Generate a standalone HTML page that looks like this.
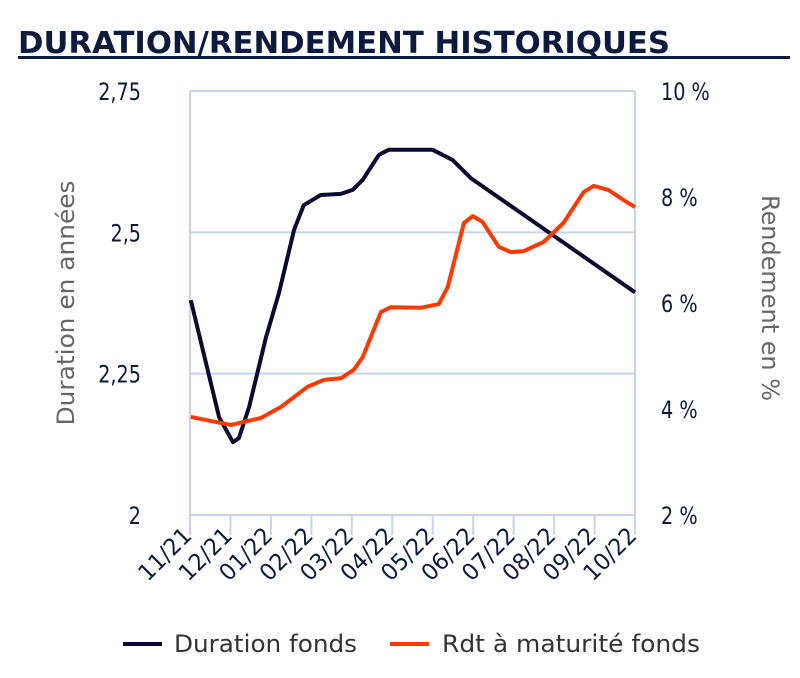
<!DOCTYPE html>
<html><head><meta charset="utf-8"><style>
body{margin:0;background:#fff;}
svg{display:block;font-family:"DejaVu Sans","Liberation Sans",sans-serif;}
</style></head><body>
<svg id="chart" width="800" height="678" viewBox="0 0 800 678">
<text x="18" y="53" font-size="30" font-weight="bold" fill="#0c1a3d" textLength="652" lengthAdjust="spacingAndGlyphs">DURATION/RENDEMENT HISTORIQUES</text>
<rect x="18" y="56" width="772" height="3" fill="#0c1a3d"/>
<g id="grid"></g>
<g id="axes"></g>
<g id="series"></g>
<text transform="translate(74,303) rotate(-90)" text-anchor="middle" font-size="24" fill="#666" textLength="245" lengthAdjust="spacingAndGlyphs">Duration en années</text>
<text transform="translate(762,298) rotate(90)" text-anchor="middle" font-size="24" fill="#666" textLength="206" lengthAdjust="spacingAndGlyphs">Rendement en %</text>
<g>
<rect x="123" y="642" width="39" height="4" fill="#0a0a2e"/>
<text x="174" y="652" font-size="24" fill="#333" textLength="183" lengthAdjust="spacingAndGlyphs">Duration fonds</text>
<rect x="390" y="642" width="39" height="4" fill="#ff3a00"/>
<text x="442" y="652" font-size="24" fill="#333" textLength="258" lengthAdjust="spacingAndGlyphs">Rdt à maturité fonds</text>
</g>
</svg>
<script>
const months = ["11/21","12/21","01/22","02/22","03/22","04/22","05/22","06/22","07/22","08/22","09/22","10/22"];
const leftTicks = [2, 2.25, 2.5, 2.75];
const leftTickLabels = ["2","2,25","2,5","2,75"];
const rightTicks = [2,4,6,8,10];
const rightTickLabels = ["2 %","4 %","6 %","8 %","10 %"];
const durationT = [0.02,0.72,1.06,1.21,1.46,1.88,2.2,2.57,2.81,3.23,3.73,4.02,4.27,4.67,4.91,6.0,6.49,6.94,11];
const durationV = [2.38,2.173,2.129,2.136,2.191,2.315,2.393,2.504,2.548,2.566,2.568,2.575,2.593,2.637,2.646,2.646,2.628,2.596,2.394];
const yieldT = [0.02,1.01,1.75,2.25,2.91,3.31,3.73,4.05,4.27,4.72,4.96,5.7,6.15,6.37,6.77,6.99,7.23,7.63,7.93,8.25,8.74,9.23,9.73,9.98,10.35,10.72,11];
const yieldV = [3.85,3.70,3.83,4.04,4.42,4.55,4.58,4.74,4.98,5.83,5.92,5.91,5.98,6.30,7.51,7.64,7.53,7.06,6.96,6.98,7.15,7.51,8.09,8.21,8.13,7.94,7.81];

const NS="http://www.w3.org/2000/svg";
const X0=190,X1=635,YT=91,YB=515;
const xs=t=>X0+t*(X1-X0)/(months.length-1);
const yL=v=>YB-(v-2)/(0.75)*(YB-YT);
const yR=v=>YB-(v-2)/8*(YB-YT);
function mk(tag,attrs,parent){const e=document.createElementNS(NS,tag);for(const k in attrs)e.setAttribute(k,attrs[k]);parent.appendChild(e);return e;}
function condense(t,f){const w=t.getComputedTextLength();t.setAttribute('textLength',(w*f).toFixed(1));t.setAttribute('lengthAdjust','spacingAndGlyphs');}
const grid=document.getElementById('grid'),axes=document.getElementById('axes'),series=document.getElementById('series');
leftTicks.forEach((v,i)=>{
  const g=mk('line',{x1:X0,x2:X1,y1:yL(v),y2:yL(v),stroke:'#c9d5e6','stroke-width':2},grid);
  
  
  const t=mk('text',{x:141,y:yL(v)+9,'text-anchor':'end','font-size':24,fill:'#0c1a3d'},axes);
  t.textContent=leftTickLabels[i];
  
  
  condense(t,0.8);
});
rightTicks.forEach((v,i)=>{
  const t=mk('text',{x:661,y:yR(v)+9,'font-size':24,fill:'#0c1a3d'},axes);
  t.textContent=rightTickLabels[i];
  
  
  condense(t,0.8);
});
[X0,X1].forEach(x=>{
  const l=mk('line',{x1:x,x2:x,y1:YT,y2:YB,stroke:'#c9d5e6','stroke-width':2},grid);
  
  
});
months.forEach((m,i)=>{
  const x=xs(i);
  const tk=mk('line',{x1:x,x2:x,y1:YB,y2:YB+20,stroke:'#c9d5e6','stroke-width':2},axes);
  
  
  const t=mk('text',{transform:`translate(${x+3},${YB+22}) rotate(-45)`,'text-anchor':'end','font-size':23,fill:'#0c1a3d',textLength:64,lengthAdjust:'spacingAndGlyphs'},axes);
  t.textContent=m;
  
  
});
const dPts=durationT.map((t,i)=>xs(t).toFixed(1)+','+yL(durationV[i]).toFixed(1)).join(' ');
const d=mk('polyline',{points:dPts,fill:'none',stroke:'#0a0a2e','stroke-width':4,'stroke-linejoin':'round'},series);


const yPts=yieldT.map((t,i)=>xs(t).toFixed(1)+','+yR(yieldV[i]).toFixed(1)).join(' ');
const r=mk('polyline',{points:yPts,fill:'none',stroke:'#ff3a00','stroke-width':4,'stroke-linejoin':'round'},series);


</script>
</body></html>
